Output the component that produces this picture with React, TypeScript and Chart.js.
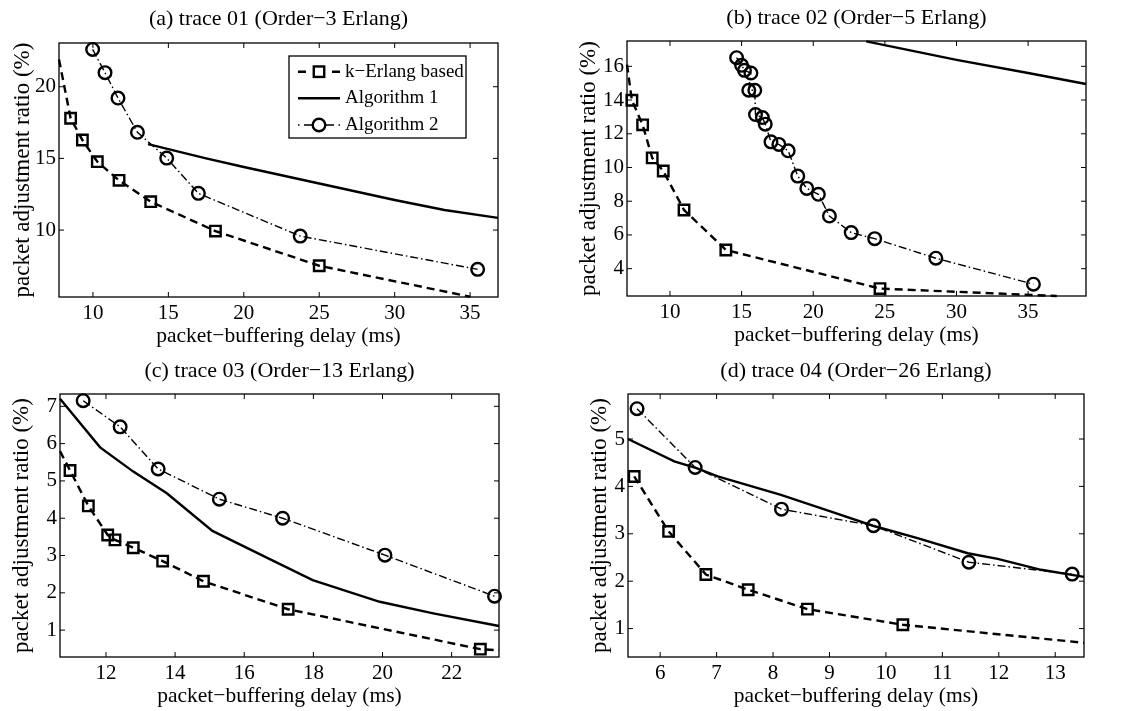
import React, { useEffect, useRef } from "react";
import { Chart, registerables } from "chart.js";

Chart.register(...registerables);

const SERIF = '"Liberation Serif", "Times New Roman", Times, serif';

const SERIES_NAMES = ["k−Erlang based", "Algorithm 1", "Algorithm 2"];
const X_AXIS_TITLE = "packet−buffering delay (ms)";
const Y_AXIS_TITLE = "packet adjustment ratio (%)";

// ---------- (a) trace 01 ----------
const titleA = "(a) trace 01 (Order−3 Erlang)";
const xTicksA = [10, 15, 20, 25, 30, 35];
const yTicksA = [10, 15, 20];
const kErlangXA = [7.75, 8.52, 9.3, 10.29, 11.73, 13.83, 18.12, 25.0, 35.0];
const kErlangYA = [21.9, 17.8, 16.28, 14.77, 13.47, 11.98, 9.93, 7.51, 5.35];
const kErlangMarkA = [0, 1, 1, 1, 1, 1, 1, 1, 0];
const alg1XA = [13.65, 15, 17.5, 20, 25, 30, 33.3, 36.85];
const alg1YA = [16.0, 15.65, 15.0, 14.4, 13.25, 12.1, 11.4, 10.85];
const alg2XA = [9.98, 10.8, 11.66, 12.95, 14.89, 16.99, 23.74, 35.5];
const alg2YA = [22.6, 20.98, 19.21, 16.82, 15.02, 12.56, 9.58, 7.26];

// ---------- (b) trace 02 ----------
const titleB = "(b) trace 02 (Order−5 Erlang)";
const xTicksB = [10, 15, 20, 25, 30, 35];
const yTicksB = [4, 6, 8, 10, 12, 14, 16];
const kErlangXB = [7.0, 7.34, 8.09, 8.76, 9.53, 10.98, 13.9, 24.66, 37.0];
const kErlangYB = [16.1, 13.99, 12.53, 10.57, 9.79, 7.48, 5.11, 2.82, 2.38];
const kErlangMarkB = [0, 1, 1, 1, 1, 1, 1, 1, 0];
const alg1XB = [23.7, 30, 35, 39.04];
const alg1YB = [17.48, 16.38, 15.6, 14.95];
const alg2XB = [14.65, 15.0, 15.2, 15.65, 15.5, 15.92, 15.97, 16.45, 16.65, 17.05, 17.6, 18.25, 18.92, 19.55, 20.36, 21.13, 22.65, 24.29, 28.56, 35.37];
const alg2YB = [16.51, 16.06, 15.76, 15.6, 14.58, 14.58, 13.14, 12.96, 12.57, 11.52, 11.37, 10.99, 9.49, 8.76, 8.41, 7.12, 6.14, 5.78, 4.62, 3.08];

// ---------- (c) trace 03 ----------
const titleC = "(c) trace 03 (Order−13 Erlang)";
const xTicksC = [12, 14, 16, 18, 20, 22];
const yTicksC = [1, 2, 3, 4, 5, 6, 7];
const kErlangXC = [10.67, 10.96, 11.49, 12.05, 12.26, 12.79, 13.64, 14.82, 17.27, 22.83, 23.37];
const kErlangYC = [5.8, 5.28, 4.33, 3.55, 3.42, 3.21, 2.85, 2.31, 1.56, 0.49, 0.46];
const kErlangMarkC = [0, 1, 1, 1, 1, 1, 1, 1, 1, 1, 0];
const alg1XC = [10.67, 11.83, 12.79, 13.76, 15.08, 16.68, 17.98, 19.92, 21.47, 23.37];
const alg1YC = [7.2, 5.9, 5.25, 4.67, 3.66, 2.93, 2.34, 1.76, 1.45, 1.11];
const alg2XC = [11.34, 12.41, 13.51, 15.28, 17.11, 20.07, 23.24];
const alg2YC = [7.15, 6.45, 5.32, 4.51, 4.0, 3.01, 1.91];

// ---------- (d) trace 04 ----------
const titleD = "(d) trace 04 (Order−26 Erlang)";
const xTicksD = [6, 7, 8, 9, 10, 11, 12, 13];
const yTicksD = [1, 2, 3, 4, 5];
const kErlangXD = [5.54, 6.15, 6.81, 7.56, 8.61, 10.3, 13.51];
const kErlangYD = [4.21, 3.05, 2.14, 1.82, 1.41, 1.08, 0.7];
const kErlangMarkD = [1, 1, 1, 1, 1, 1, 0];
const alg1XD = [5.43, 6.25, 6.63, 7.02, 8.14, 9.03, 9.77, 10.56, 11.45, 11.98, 12.75, 13.51];
const alg1YD = [5.0, 4.53, 4.39, 4.21, 3.82, 3.47, 3.17, 2.91, 2.59, 2.47, 2.24, 2.09];
const alg2XD = [5.59, 6.62, 8.15, 9.78, 11.47, 13.3];
const alg2YD = [5.64, 4.4, 3.52, 3.17, 2.4, 2.15];

type Series = { x: number[]; y: number[]; marks?: number[] };

type PanelCfg = {
  left: number;
  top: number;
  width: number;
  height: number;
  area: { l: number; t: number; r: number; b: number };
  titleY: number;
  yTitleX: number;
  title: string;
  xRange: [number, number];
  yRange: [number, number];
  xTicks: number[];
  yTicks: number[];
  kErlang: Series;
  alg1: Series;
  alg2: Series;
  legend?: boolean;
};

const KE_DASH = [8, 5];
const A2_DASH = [8, 3, 1.5, 3];
const SQUARE_R = 7.4;
const CIRCLE_R = 6.3;
const TITLE_SIZE = 22;
const XLABEL_SIZE = 21.5;
const YLABEL_SIZE = 23;
const TICK_SIZE = 21;

const framePlugin = {
  id: "matlabFrame",
  afterDatasetsDraw(chart: any) {
    const { ctx, chartArea: a, scales } = chart;
    ctx.save();
    ctx.setLineDash([]);
    ctx.strokeStyle = "#000";
    ctx.lineWidth = 1.3;
    ctx.strokeRect(a.left, a.top, a.right - a.left, a.bottom - a.top);
    ctx.lineWidth = 1;
    const tl = 5;
    ctx.beginPath();
    scales.x.ticks.forEach((t: any) => {
      const px = scales.x.getPixelForValue(t.value);
      ctx.moveTo(px, a.bottom);
      ctx.lineTo(px, a.bottom - tl);
      ctx.moveTo(px, a.top);
      ctx.lineTo(px, a.top + tl);
    });
    scales.y.ticks.forEach((t: any) => {
      const py = scales.y.getPixelForValue(t.value);
      ctx.moveTo(a.left, py);
      ctx.lineTo(a.left + tl, py);
      ctx.moveTo(a.right, py);
      ctx.lineTo(a.right - tl, py);
    });
    ctx.stroke();
    ctx.restore();
  },
};

function makeTitlePlugin(text: string, y: number) {
  return {
    id: "panelTitle",
    afterDraw(chart: any) {
      const { ctx, chartArea: a } = chart;
      ctx.save();
      ctx.fillStyle = "#000";
      ctx.font = `${TITLE_SIZE}px ${SERIF}`;
      ctx.textAlign = "center";
      ctx.textBaseline = "middle";
      ctx.fillText(text, (a.left + a.right) / 2, y);
      ctx.restore();
    },
  };
}

const legendPlugin = {
  id: "matlabLegend",
  afterDatasetsDraw(chart: any) {
    const { ctx, chartArea: a } = chart;
    const bx = a.left + 230;
    const by = a.top + 13;
    const bw = 177;
    const bh = 82;
    ctx.save();
    ctx.fillStyle = "#fff";
    ctx.fillRect(bx, by, bw, bh);
    ctx.strokeStyle = "#000";
    ctx.lineWidth = 1.3;
    ctx.setLineDash([]);
    ctx.strokeRect(bx, by, bw, bh);
    const rows = [by + 15.7, by + 42.3, by + 69];
    const x0 = bx + 9;
    const x1 = bx + 51;
    const xm = (x0 + x1) / 2;
    // k-Erlang
    ctx.lineWidth = 2.4;
    ctx.beginPath();
    ctx.moveTo(x0, rows[0]);
    ctx.lineTo(x0 + 8, rows[0]);
    ctx.moveTo(x1 - 8, rows[0]);
    ctx.lineTo(x1, rows[0]);
    ctx.stroke();
    const hs = SQUARE_R * Math.SQRT1_2;
    ctx.strokeRect(xm - hs, rows[0] - hs, 2 * hs, 2 * hs);
    // Algorithm 1
    ctx.beginPath();
    ctx.moveTo(x0, rows[1]);
    ctx.lineTo(x1, rows[1]);
    ctx.stroke();
    // Algorithm 2
    ctx.lineWidth = 1.4;
    ctx.beginPath();
    ctx.moveTo(x0, rows[2]);
    ctx.lineTo(x0 + 1.5, rows[2]);
    ctx.moveTo(x0 + 6, rows[2]);
    ctx.lineTo(x0 + 14, rows[2]);
    ctx.moveTo(x1 - 14, rows[2]);
    ctx.lineTo(x1 - 6, rows[2]);
    ctx.moveTo(x1 - 1.5, rows[2]);
    ctx.lineTo(x1, rows[2]);
    ctx.stroke();
    ctx.lineWidth = 2.4;
    ctx.beginPath();
    ctx.arc(xm, rows[2], CIRCLE_R, 0, Math.PI * 2);
    ctx.stroke();
    // text
    ctx.fillStyle = "#000";
    ctx.font = `19px ${SERIF}`;
    ctx.textAlign = "left";
    ctx.textBaseline = "middle";
    SERIES_NAMES.forEach((n, i) => ctx.fillText(n, bx + 56, rows[i]));
    ctx.restore();
  },
};

function Panel(p: PanelCfg) {
  const ref = useRef<HTMLCanvasElement | null>(null);
  useEffect(() => {
    const canvas = ref.current;
    if (!canvas) return;
    const yw = p.area.l - p.left;
    const padTop = p.area.t - p.top;
    const padRight = p.left + p.width - p.area.r;
    const xh = p.top + p.height - p.area.b;
    const xTitlePadBottom = p.top + p.height - (p.area.b + 39) - (XLABEL_SIZE * 1.2) / 2;
    const yTitlePadTop = p.yTitleX - p.left - (YLABEL_SIZE * 1.2) / 2;
    const pts = (s: Series) => s.x.map((x, i) => ({ x, y: s.y[i] }));
    const tickFont = { family: SERIF, size: TICK_SIZE };
    const plugins: any[] = [framePlugin, makeTitlePlugin(p.title, p.titleY - p.top)];
    if (p.legend) plugins.push(legendPlugin);
    const chart = new Chart(canvas, {
      type: "scatter",
      data: {
        datasets: [
          {
            label: SERIES_NAMES[0],
            data: pts(p.kErlang),
            showLine: true,
            borderColor: "#000",
            borderWidth: 2.4,
            borderDash: KE_DASH,
            pointStyle: "rect",
            pointRadius: (p.kErlang.marks || []).map((m) => (m ? SQUARE_R : 0)),
            pointBorderWidth: 2.4,
            pointBorderColor: "#000",
            pointBackgroundColor: "rgba(0,0,0,0)",
            clip: 10,
          } as any,
          {
            label: SERIES_NAMES[1],
            data: pts(p.alg1),
            showLine: true,
            borderColor: "#000",
            borderWidth: 2.4,
            pointRadius: 0,
            clip: 10,
          } as any,
          {
            label: SERIES_NAMES[2],
            data: pts(p.alg2),
            showLine: true,
            borderColor: "#000",
            borderWidth: 1.4,
            borderDash: A2_DASH,
            pointStyle: "circle",
            pointRadius: CIRCLE_R,
            pointBorderWidth: 2.4,
            pointBorderColor: "#000",
            pointBackgroundColor: "rgba(0,0,0,0)",
            clip: 10,
          } as any,
        ],
      },
      options: {
        responsive: false,
        animation: false,
        events: [],
        layout: { padding: { top: padTop, right: padRight, bottom: 0, left: 0 } },
        plugins: {
          legend: { display: false },
          tooltip: { enabled: false },
          title: { display: false },
        },
        scales: {
          x: {
            type: "linear",
            min: p.xRange[0],
            max: p.xRange[1],
            afterBuildTicks: (s: any) => {
              s.ticks = p.xTicks.map((v) => ({ value: v }));
            },
            afterFit: (s: any) => {
              s.height = xh;
            },
            ticks: {
              font: tickFont,
              color: "#000",
              padding: 4,
              maxRotation: 0,
              autoSkip: false,
              callback: (v: any) => String(v),
            },
            grid: { display: false, drawTicks: false },
            border: { display: false },
            title: {
              display: true,
              text: X_AXIS_TITLE,
              color: "#000",
              font: { family: SERIF, size: XLABEL_SIZE },
              padding: { top: 0, bottom: xTitlePadBottom },
            },
          },
          y: {
            type: "linear",
            min: p.yRange[0],
            max: p.yRange[1],
            afterBuildTicks: (s: any) => {
              s.ticks = p.yTicks.map((v) => ({ value: v }));
            },
            afterFit: (s: any) => {
              s.width = yw;
            },
            ticks: {
              font: tickFont,
              color: "#000",
              padding: 3,
              autoSkip: false,
              callback: (v: any) => String(v),
            },
            grid: { display: false, drawTicks: false },
            border: { display: false },
            title: {
              display: true,
              text: Y_AXIS_TITLE,
              color: "#000",
              font: { family: SERIF, size: YLABEL_SIZE },
              padding: { top: yTitlePadTop, bottom: 0 },
            },
          },
        },
      } as any,
      plugins,
    });
    return () => chart.destroy();
  }, []);
  return (
    <canvas
      ref={ref}
      width={p.width}
      height={p.height}
      style={{ position: "absolute", left: p.left, top: p.top, width: p.width, height: p.height }}
    />
  );
}

const panels: PanelCfg[] = [
  {
    left: 0, top: 0, width: 508, height: 352,
    area: { l: 59, t: 43, r: 498, b: 297 },
    titleY: 19, yTitleX: 22.5, title: titleA,
    xRange: [7.75, 36.85], yRange: [5.33, 23.05],
    xTicks: xTicksA, yTicks: yTicksA,
    kErlang: { x: kErlangXA, y: kErlangYA, marks: kErlangMarkA },
    alg1: { x: alg1XA, y: alg1YA },
    alg2: { x: alg2XA, y: alg2YA },
    legend: true,
  },
  {
    left: 564, top: 0, width: 532, height: 352,
    area: { l: 627, t: 41, r: 1086, b: 296 },
    titleY: 18.5, yTitleX: 589, title: titleB,
    xRange: [7.0, 39.04], yRange: [2.38, 17.5],
    xTicks: xTicksB, yTicks: yTicksB,
    kErlang: { x: kErlangXB, y: kErlangYB, marks: kErlangMarkB },
    alg1: { x: alg1XB, y: alg1YB },
    alg2: { x: alg2XB, y: alg2YB },
  },
  {
    left: 0, top: 345, width: 509, height: 366,
    area: { l: 60, t: 394, r: 499, b: 657 },
    titleY: 371, yTitleX: 22, title: titleC,
    xRange: [10.67, 23.37], yRange: [0.28, 7.33],
    xTicks: xTicksC, yTicks: yTicksC,
    kErlang: { x: kErlangXC, y: kErlangYC, marks: kErlangMarkC },
    alg1: { x: alg1XC, y: alg1YC },
    alg2: { x: alg2XC, y: alg2YC },
  },
  {
    left: 564, top: 345, width: 530, height: 366,
    area: { l: 628, t: 394, r: 1084, b: 657 },
    titleY: 371, yTitleX: 600, title: titleD,
    xRange: [5.43, 13.51], yRange: [0.4, 5.95],
    xTicks: xTicksD, yTicks: yTicksD,
    kErlang: { x: kErlangXD, y: kErlangYD, marks: kErlangMarkD },
    alg1: { x: alg1XD, y: alg1YD },
    alg2: { x: alg2XD, y: alg2YD },
  },
];

export default function App() {
  return (
    <div
      style={{
        position: "fixed",
        left: 0,
        top: 0,
        width: 1128,
        height: 711,
        background: "#fff",
        overflow: "hidden",
      }}
    >
      {panels.map((p, i) => (
        <Panel key={i} {...p} />
      ))}
    </div>
  );
}
